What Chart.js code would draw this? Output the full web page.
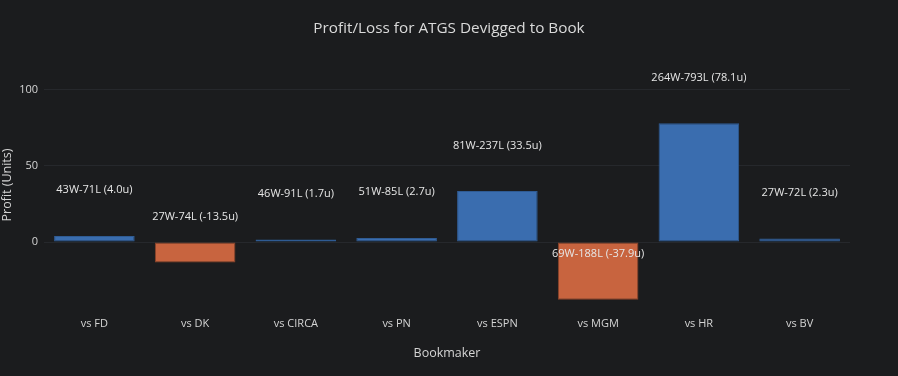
<!DOCTYPE html>
<html>
<head>
<meta charset="utf-8">
<script src="https://cdn.jsdelivr.net/npm/chart.js@4/dist/chart.umd.min.js"></script>
<style>
  html, body { margin: 0; padding: 0; background: #1b1c1e; }
  #wrap { width: 898px; height: 376px; }
</style>
</head>
<body>
<div id="wrap"><canvas id="chart" width="898" height="376"></canvas></div>
<script>
/* datos del grafico */
const BOOKS = ["vs FD", "vs DK", "vs CIRCA", "vs PN", "vs ESPN", "vs MGM", "vs HR", "vs BV"];
const PROFIT = [4.0, -13.5, 1.7, 2.7, 33.5, -37.9, 78.1, 2.3];
const WINS = [43, 27, 46, 51, 81, 69, 264, 27];
const LOSSES = [71, 74, 91, 85, 237, 188, 793, 72];
const Y_TICKS = [0, 50, 100];
const TITULO = "Profit/Loss for ATGS Devigged to Book";

const TXT = "#d4d4d4";
const FONT = "'Open Sans', 'Noto Sans', sans-serif";

// etiqueta por barra, colocada 30u por encima del valor
const labelPlugin = {
    id: "barLabels",
    afterDatasetsDraw(chart) {
        const ctx = chart.ctx;
        const yScale = chart.scales.y;
        const meta = chart.getDatasetMeta(0);
        ctx.save();
        ctx.fillStyle = "#e6e6e6";
        ctx.font = "11px " + FONT;
        ctx.textAlign = "center";
        ctx.textBaseline = "middle";
        meta.data.forEach((bar, i) => {
            const txt = `${WINS[i]}W-${LOSSES[i]}L (${PROFIT[i].toFixed(1)}u)`;
            ctx.fillText(txt, bar.x, yScale.getPixelForValue(PROFIT[i] + 30));
        });
        ctx.restore();
    }
};

// titulo centrado en todo el ancho
const titlePlugin = {
    id: "centerTitle",
    afterDraw(chart) {
        const ctx = chart.ctx;
        ctx.save();
        ctx.fillStyle = "#dadada";
        ctx.font = "15.3px " + FONT;
        ctx.textAlign = "center";
        ctx.textBaseline = "middle";
        ctx.fillText(TITULO, chart.width / 2, 29);
        ctx.restore();
    }
};

new Chart(document.getElementById("chart"), {
    type: "bar",
    data: {
        labels: BOOKS,
        datasets: [{
            data: PROFIT,
            backgroundColor: PROFIT.map(v => v >= 0 ? "#3a6daf" : "#c8643f"),
            borderColor: PROFIT.map(v => v >= 0 ? "#2f5b93" : "#8c4329"),
            borderWidth: 1,
            borderSkipped: false,
            barPercentage: 0.8,
            categoryPercentage: 1.0
        }]
    },
    options: {
        responsive: false,
        animation: false,
        layout: { padding: { top: 60, right: 48, bottom: 0, left: 0 } },
        plugins: {
            legend: { display: false },
            tooltip: { enabled: false },
            title: { display: false }
        },
        scales: {
            x: {
                grid: { display: false, drawTicks: false },
                border: { display: false },
                ticks: { color: TXT, font: { family: FONT, size: 11 }, padding: 7 },
                title: {
                    display: true,
                    text: "Bookmaker",
                    color: TXT,
                    font: { family: FONT, size: 12.5 },
                    padding: { top: 0, bottom: 15 }
                },
                afterFit(s) { s.height = 66; }
            },
            y: {
                min: -44.7,
                max: 119.7,
                grid: { color: "#26282c", drawTicks: false },
                border: { display: false },
                ticks: { color: TXT, font: { family: FONT, size: 11 }, padding: 6 },
                afterBuildTicks(s) { s.ticks = Y_TICKS.map(v => ({ value: v })); },
                title: {
                    display: true,
                    text: "Profit (Units)",
                    color: TXT,
                    font: { family: FONT, size: 12.5 },
                    padding: { top: 0, bottom: 0 }
                },
                afterFit(s) { s.width = 44; }
            }
        }
    },
    plugins: [labelPlugin, titlePlugin]
});
</script>
</body>
</html>
